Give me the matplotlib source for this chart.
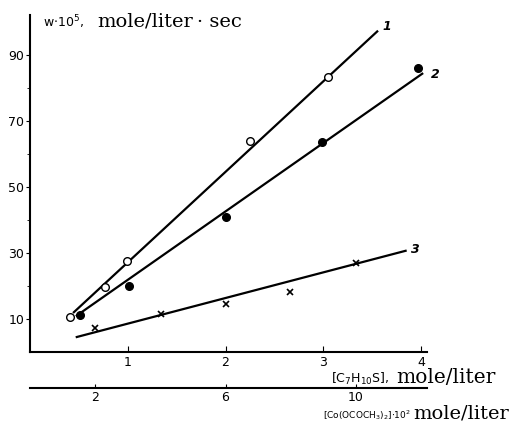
import numpy as np
import matplotlib.pyplot as plt

# series 1 (open circles)
x1 = [0.41, 0.77, 0.99, 2.25, 3.05]
y1 = [10.6, 19.7, 27.6, 63.9, 83.3]
line1_x = [0.45, 3.55]
line1_y = [12.0, 97.0]

# series 2 (filled circles)
x2 = [0.51, 1.01, 2.0, 2.99, 3.97]
y2 = [11.2, 20.0, 40.9, 63.6, 85.8]
line2_x = [0.48, 4.01]
line2_y = [11.0, 84.2]

# series 3 (crosses)
x3 = [0.67, 1.34, 2.0, 2.66, 3.33]
y3 = [7.3, 11.5, 14.5, 18.2, 27.0]
line3_x = [0.48, 3.84]
line3_y = [4.5, 30.6]

xticks = [1, 2, 3, 4]
yticks = [10, 30, 50, 70, 90]
co_ticks = [2, 6, 10]

W, H = 514, 426
fig = plt.figure(figsize=(W / 100, H / 100), dpi=100)
ax = fig.add_axes([0.058, 0.174, 0.773, 0.791])

ax.plot(line1_x, line1_y, color='black', lw=1.6)
ax.plot(line2_x, line2_y, color='black', lw=1.6)
ax.plot(line3_x, line3_y, color='black', lw=1.6)
ax.plot(x1, y1, 'o', mfc='white', mec='black', ms=5.5, mew=1.0)
ax.plot(x2, y2, 'o', color='black', ms=5.5)
ax.plot(x3, y3, 'x', color='black', ms=5, mew=1.2)

ax.text(3.6, 97.5, '1', fontsize=9, style='italic', weight='bold')
ax.text(4.1, 83, '2', fontsize=9, style='italic', weight='bold')
ax.text(3.9, 30, '3', fontsize=9, style='italic', weight='bold')

ax.set_xlim(0, 4.06)
ax.set_ylim(0, 102)
ax.spines['top'].set_visible(False)
ax.spines['right'].set_visible(False)
ax.spines['left'].set_linewidth(1.5)
ax.spines['bottom'].set_linewidth(1.5)

ax.set_xticks(xticks)
ax.set_yticks(yticks)
ax.set_yticks([20, 40, 60, 80], minor=True)
ax.tick_params(axis='x', direction='in', length=4, labelsize=9, pad=3)
ax.tick_params(axis='y', direction='out', length=3, labelsize=9, pad=1)
ax.tick_params(axis='y', which='minor', length=2)

sec = ax.secondary_xaxis(-0.107, functions=(lambda x: 3 * x, lambda x: x / 3))
sec.set_xticks(co_ticks)
sec.tick_params(direction='in', length=3, labelsize=9, pad=2)
sec.spines['bottom'].set_linewidth(1.5)

serif = ['DejaVu Serif']


def px(x, y, s, **kw):
    fig.text(x / W, 1 - y / H, s, va='baseline', **kw)


# y label
px(43, 27, r'w$\cdot$10$^5$,', fontsize=9)
px(97, 27, 'mole/liter', fontsize=14, family=serif)
px(197, 27, '\u00b7 sec', fontsize=14, family=serif)

# x labels
px(331, 383, r'[C$_7$H$_{10}$S],', fontsize=9)
px(396, 383, 'mole/liter', fontsize=14.5, family=serif)
px(411, 419, r'[Co(OCOCH$_3$)$_2$]$\cdot$10$^2$', fontsize=6.5, ha='right')
px(413, 419, 'mole/liter', fontsize=14, family=serif)

fig.savefig('out.png', dpi=100)
